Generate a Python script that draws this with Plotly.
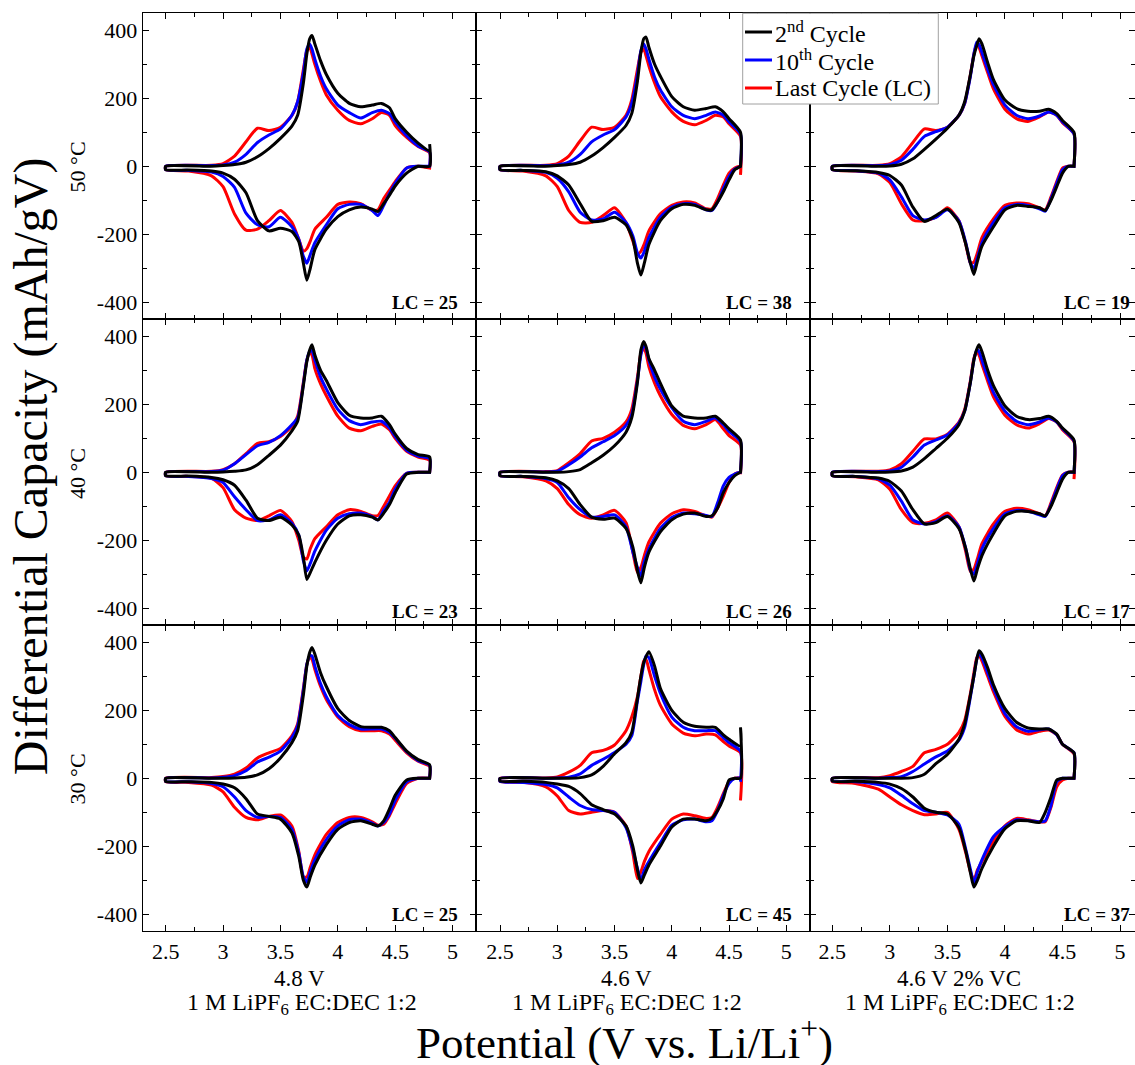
import plotly.graph_objects as go

W, H = 1135, 1065

# ---------------- voltage grids (V vs Li/Li+) ----------------
CHG_V = [2.5, 2.9, 3.0, 3.1, 3.2, 3.3, 3.4, 3.5, 3.6, 3.65, 3.7, 3.73, 3.755, 3.775, 3.8,
         3.85, 3.9, 4.0, 4.1, 4.2, 4.3, 4.38, 4.45, 4.5, 4.6, 4.7, 4.8]
DIS_V_48 = [4.8, 4.8, 4.7, 4.6, 4.5, 4.45, 4.4, 4.35, 4.3, 4.2, 4.1, 4.0, 3.9, 3.8, 3.76, 3.73,
            3.7, 3.66, 3.6, 3.5, 3.4, 3.3, 3.2, 3.1, 3.0, 2.9, 2.7, 2.5]
DIS_V_46 = [4.6, 4.6, 4.55, 4.5, 4.45, 4.4, 4.35, 4.3, 4.2, 4.1, 4.0, 3.9, 3.8, 3.76, 3.73,
            3.7, 3.66, 3.6, 3.5, 3.4, 3.3, 3.2, 3.1, 3.0, 2.9, 2.7, 2.5]

# ---------------- dQ/dV values (mAh/gV) ----------------
# 50 C, 4.8 V
T50_V48_2ND_CHG = [0, 0, 2, 5, 12, 28, 52, 82, 118, 150, 245, 330, 375, 385, 360, 310, 270, 215, 185, 175, 180, 185, 172, 140, 100, 68, 45]
T50_V48_10TH_CHG = [0, 2, 4, 12, 35, 70, 92, 110, 150, 190, 275, 345, 360, 345, 315, 265, 228, 180, 158, 142, 158, 165, 155, 130, 90, 60, 42]
T50_V48_LC_CHG = [0, 3, 8, 30, 72, 112, 105, 115, 150, 190, 285, 340, 350, 330, 300, 250, 210, 165, 135, 125, 140, 158, 150, 120, 85, 58, 40]
T50_V48_2ND_DIS = [65, 0, 0, -20, -58, -85, -110, -133, -126, -120, -128, -148, -185, -245, -300, -335, -285, -222, -192, -182, -190, -160, -78, -38, -20, -14, -11, -10]
T50_V48_10TH_DIS = [0, 0, 0, -5, -50, -80, -115, -145, -130, -112, -112, -125, -172, -225, -260, -285, -265, -215, -178, -150, -178, -172, -138, -62, -30, -17, -12, -10]
T50_V48_LC_DIS = [-5, -5, 0, -5, -45, -70, -95, -128, -130, -110, -105, -112, -150, -185, -220, -242, -250, -215, -165, -130, -160, -185, -188, -140, -60, -28, -14, -10]

# 50 C, 4.6 V
T50_V46_2ND_CHG = [0, 0, 2, 5, 12, 30, 55, 85, 120, 155, 250, 335, 375, 380, 350, 300, 265, 205, 175, 165, 170, 175, 160, 140, 100]
T50_V46_10TH_CHG = [0, 2, 4, 12, 35, 72, 92, 108, 145, 185, 270, 340, 360, 345, 315, 262, 225, 175, 150, 140, 150, 160, 150, 130, 95]
T50_V46_LC_CHG = [0, 3, 8, 30, 75, 115, 108, 115, 150, 195, 285, 335, 345, 325, 295, 245, 205, 160, 132, 122, 135, 150, 145, 125, 88]
T50_V46_2ND_DIS = [0, 0, -10, -40, -75, -105, -128, -128, -115, -112, -125, -160, -230, -285, -320, -285, -215, -172, -150, -160, -162, -110, -55, -28, -16, -12, -10]
T50_V46_10TH_DIS = [0, 0, -8, -30, -65, -105, -130, -128, -112, -110, -120, -150, -210, -250, -270, -255, -205, -165, -135, -155, -158, -135, -75, -35, -18, -12, -10]
T50_V46_LC_DIS = [-25, 0, -5, -20, -55, -95, -125, -125, -108, -105, -115, -140, -190, -228, -250, -258, -220, -165, -122, -145, -165, -165, -130, -60, -28, -14, -10]

# 50 C, 4.6 V + 2% VC
T50_VC_2ND_CHG = [0, 0, 1, 6, 22, 50, 80, 112, 150, 190, 270, 325, 355, 375, 360, 305, 255, 195, 170, 162, 162, 168, 155, 135, 100]
T50_VC_10TH_CHG = [0, 2, 5, 18, 50, 88, 102, 115, 150, 185, 265, 330, 365, 358, 335, 285, 240, 180, 150, 140, 148, 160, 150, 130, 95]
T50_VC_LC_CHG = [0, 3, 8, 28, 70, 110, 105, 115, 150, 185, 270, 330, 360, 350, 325, 275, 228, 168, 140, 132, 145, 160, 150, 128, 95]
T50_VC_2ND_DIS = [0, 0, 0, -20, -60, -100, -130, -122, -118, -115, -128, -178, -235, -280, -318, -285, -230, -165, -126, -145, -162, -120, -55, -27, -18, -13, -10]
T50_VC_10TH_DIS = [0, 0, 0, -10, -50, -95, -132, -125, -115, -112, -122, -165, -225, -270, -300, -285, -225, -160, -128, -150, -158, -145, -90, -40, -20, -13, -10]
T50_VC_LC_DIS = [0, 0, 0, -5, -45, -90, -128, -122, -110, -108, -115, -155, -210, -255, -282, -285, -230, -160, -122, -150, -160, -158, -110, -48, -22, -14, -10]

# 40 C, 4.8 V
T40_V48_2ND_CHG = [0, 0, 1, 3, 7, 22, 50, 80, 122, 150, 255, 325, 360, 375, 345, 300, 270, 205, 168, 160, 160, 165, 140, 112, 70, 52, 45]
T40_V48_10TH_CHG = [0, 2, 6, 25, 52, 78, 88, 108, 140, 160, 260, 330, 355, 358, 330, 280, 245, 185, 152, 140, 148, 150, 130, 105, 65, 48, 40]
T40_V48_LC_CHG = [0, 3, 8, 25, 55, 85, 90, 105, 135, 165, 265, 330, 352, 345, 305, 260, 225, 165, 130, 122, 135, 142, 125, 100, 62, 45, 35]
T40_V48_2ND_DIS = [0, 0, 0, -5, -60, -95, -120, -140, -132, -125, -128, -152, -200, -265, -295, -315, -250, -185, -155, -132, -142, -135, -82, -38, -22, -15, -11, -10]
T40_V48_10TH_DIS = [0, 0, 0, -3, -50, -88, -112, -140, -130, -120, -122, -135, -170, -232, -268, -290, -260, -185, -150, -125, -140, -142, -110, -72, -30, -18, -12, -10]
T40_V48_LC_DIS = [0, 0, 0, -3, -40, -70, -100, -127, -128, -115, -110, -125, -160, -195, -225, -255, -250, -200, -145, -112, -128, -142, -135, -110, -45, -18, -12, -10]

# 40 C, 4.6 V
T40_V46_2ND_CHG = [0, 0, 0, 2, 8, 28, 50, 78, 118, 160, 265, 360, 385, 370, 335, 300, 262, 195, 165, 160, 160, 165, 145, 128, 95]
T40_V46_10TH_CHG = [0, 1, 3, 22, 45, 72, 90, 108, 138, 170, 270, 345, 375, 365, 330, 280, 245, 190, 150, 140, 150, 160, 140, 120, 90]
T40_V46_LC_CHG = [0, 2, 5, 28, 55, 92, 100, 118, 148, 185, 280, 350, 365, 350, 310, 262, 225, 170, 138, 128, 140, 155, 128, 108, 80]
T40_V46_2ND_DIS = [0, 0, -10, -30, -60, -105, -128, -130, -120, -123, -140, -175, -235, -280, -325, -290, -220, -165, -135, -138, -132, -95, -48, -25, -16, -12, -10]
T40_V46_10TH_DIS = [0, 0, -5, -15, -40, -90, -130, -127, -122, -120, -133, -165, -225, -262, -305, -280, -235, -160, -125, -130, -132, -110, -75, -30, -18, -12, -10]
T40_V46_LC_DIS = [-5, 0, -5, -30, -70, -105, -132, -128, -115, -110, -122, -150, -205, -245, -280, -295, -235, -148, -112, -125, -135, -125, -95, -48, -25, -13, -10]

# 40 C, 4.6 V + 2% VC
T40_VC_2ND_CHG = [0, 0, 1, 4, 15, 40, 70, 100, 140, 180, 265, 330, 362, 375, 355, 300, 255, 195, 165, 155, 158, 165, 150, 130, 95]
T40_VC_10TH_CHG = [0, 2, 4, 15, 45, 80, 95, 110, 145, 180, 265, 330, 360, 355, 330, 280, 235, 180, 150, 140, 148, 160, 148, 128, 92]
T40_VC_LC_CHG = [0, 3, 7, 25, 62, 98, 98, 112, 148, 185, 270, 335, 355, 345, 318, 268, 222, 168, 140, 130, 143, 158, 148, 125, 90]
T40_VC_2ND_DIS = [0, 0, 0, -20, -60, -100, -128, -122, -115, -115, -128, -180, -245, -285, -320, -285, -225, -165, -130, -148, -152, -110, -55, -27, -17, -12, -10]
T40_VC_10TH_DIS = [0, 0, 0, -10, -50, -95, -130, -125, -115, -112, -122, -165, -225, -270, -300, -288, -225, -160, -128, -145, -152, -140, -85, -38, -19, -12, -10]
T40_VC_LC_DIS = [-20, 0, 0, -8, -45, -90, -128, -122, -110, -106, -115, -152, -210, -255, -285, -292, -235, -160, -120, -140, -150, -148, -110, -50, -22, -13, -10]

# 30 C, 4.8 V
T30_V48_2ND_CHG = [0, 0, 0, 1, 3, 10, 28, 60, 105, 140, 245, 330, 370, 385, 365, 310, 270, 205, 170, 152, 150, 150, 140, 120, 80, 55, 40]
T30_V48_10TH_CHG = [0, 1, 3, 8, 22, 48, 62, 80, 120, 155, 260, 335, 360, 360, 330, 278, 240, 185, 158, 145, 145, 145, 135, 118, 78, 52, 38]
T30_V48_LC_CHG = [0, 2, 5, 12, 30, 60, 75, 88, 125, 160, 265, 335, 355, 350, 320, 270, 232, 180, 152, 140, 140, 140, 130, 112, 75, 50, 35]
T30_V48_2ND_DIS = [0, 0, 0, -5, -50, -90, -125, -140, -135, -125, -130, -150, -195, -255, -290, -320, -300, -230, -160, -120, -112, -105, -60, -28, -17, -12, -10, -9]
T30_V48_10TH_DIS = [0, 0, 0, -10, -65, -105, -130, -140, -132, -120, -122, -140, -180, -240, -275, -305, -290, -220, -150, -115, -112, -115, -95, -55, -25, -15, -10, -9]
T30_V48_LC_DIS = [0, 0, 0, -15, -75, -110, -135, -138, -128, -115, -115, -130, -165, -225, -262, -290, -290, -215, -140, -108, -112, -122, -115, -85, -40, -20, -12, -10]

# 30 C, 4.6 V
T30_V46_2ND_CHG = [0, 0, 0, 0, 2, 10, 35, 72, 105, 135, 235, 300, 340, 358, 372, 330, 265, 200, 165, 153, 150, 150, 128, 115, 95]
T30_V46_10TH_CHG = [0, 0, 1, 3, 13, 38, 56, 76, 100, 125, 228, 285, 335, 360, 355, 300, 250, 180, 150, 140, 140, 140, 120, 105, 80]
T30_V46_LC_CHG = [0, 1, 4, 18, 38, 75, 82, 98, 140, 180, 240, 300, 345, 350, 320, 260, 215, 160, 133, 125, 130, 128, 108, 95, 75]
T30_V46_2ND_DIS = [150, 0, 0, -5, -60, -95, -118, -125, -120, -120, -143, -200, -255, -285, -308, -270, -200, -140, -105, -92, -78, -45, -24, -17, -12, -9, -8]
T30_V46_10TH_DIS = [-10, 0, 0, -15, -50, -95, -125, -128, -120, -122, -138, -190, -245, -270, -300, -265, -210, -145, -100, -95, -92, -80, -55, -28, -18, -12, -9]
T30_V46_LC_DIS = [-65, 0, 0, -10, -45, -85, -115, -118, -110, -105, -120, -165, -215, -245, -275, -295, -220, -140, -100, -95, -100, -105, -95, -52, -25, -12, -9]

# 30 C, 4.6 V + 2% VC
T30_VC_2ND_CHG = [0, 0, 0, 0, 2, 12, 43, 70, 115, 160, 245, 300, 350, 375, 365, 325, 275, 205, 165, 148, 145, 145, 130, 100, 75]
T30_VC_10TH_CHG = [0, 0, 2, 5, 20, 42, 63, 80, 112, 150, 240, 300, 350, 368, 355, 310, 265, 190, 152, 138, 143, 145, 128, 100, 75]
T30_VC_LC_CHG = [0, 2, 8, 20, 35, 75, 85, 100, 135, 170, 250, 310, 355, 362, 345, 300, 255, 182, 143, 130, 138, 142, 128, 100, 72]
T30_VC_2ND_DIS = [0, 0, 0, 0, -5, -55, -100, -130, -125, -125, -148, -200, -265, -300, -320, -278, -215, -145, -105, -100, -88, -55, -30, -17, -12, -9, -8]
T30_VC_10TH_DIS = [0, 0, 0, 0, -10, -80, -125, -128, -124, -122, -142, -172, -240, -275, -308, -268, -210, -135, -108, -100, -95, -75, -50, -28, -18, -10, -8]
T30_VC_LC_DIS = [0, 0, 0, -5, -25, -85, -128, -128, -122, -118, -140, -185, -245, -270, -300, -275, -220, -150, -100, -105, -107, -95, -78, -55, -32, -15, -10]

# ---------------- labels ----------------
TEMPS = ["50 °C", "40 °C", "30 °C"]
COND_LINE1 = ["4.8 V", "4.6 V", "4.6 V 2% VC"]
COND_LINE2 = ["1 M LiPF<sub>6</sub> EC:DEC 1:2"] * 3
LAST_CYCLE = [[25, 38, 19], [23, 26, 17], [25, 45, 37]]
CYCLE_NAMES = ["2<sup>nd</sup> Cycle", "10<sup>th</sup> Cycle", "Last Cycle (LC)"]
CYCLE_COLORS = ["#000000", "#0000ff", "#ff0000"]
X_TICKS = [2.5, 3, 3.5, 4, 4.5, 5]
X_TICK_TEXT = ["2.5", "3", "3.5", "4", "4.5", "5"]
X_MINOR = [2.25, 2.75, 3.25, 3.75, 4.25, 4.75, 5.25]
Y_TICKS = [-400, -200, 0, 200, 400]
Y_TICK_TEXT = ["-400", "-200", "0", "200", "400"]
Y_MINOR = [-300, -100, 100, 300]

PANELS = [
    [(T50_V48_2ND_CHG, T50_V48_2ND_DIS, T50_V48_10TH_CHG, T50_V48_10TH_DIS, T50_V48_LC_CHG, T50_V48_LC_DIS, 4.8),
     (T50_V46_2ND_CHG, T50_V46_2ND_DIS, T50_V46_10TH_CHG, T50_V46_10TH_DIS, T50_V46_LC_CHG, T50_V46_LC_DIS, 4.6),
     (T50_VC_2ND_CHG, T50_VC_2ND_DIS, T50_VC_10TH_CHG, T50_VC_10TH_DIS, T50_VC_LC_CHG, T50_VC_LC_DIS, 4.6)],
    [(T40_V48_2ND_CHG, T40_V48_2ND_DIS, T40_V48_10TH_CHG, T40_V48_10TH_DIS, T40_V48_LC_CHG, T40_V48_LC_DIS, 4.8),
     (T40_V46_2ND_CHG, T40_V46_2ND_DIS, T40_V46_10TH_CHG, T40_V46_10TH_DIS, T40_V46_LC_CHG, T40_V46_LC_DIS, 4.6),
     (T40_VC_2ND_CHG, T40_VC_2ND_DIS, T40_VC_10TH_CHG, T40_VC_10TH_DIS, T40_VC_LC_CHG, T40_VC_LC_DIS, 4.6)],
    [(T30_V48_2ND_CHG, T30_V48_2ND_DIS, T30_V48_10TH_CHG, T30_V48_10TH_DIS, T30_V48_LC_CHG, T30_V48_LC_DIS, 4.8),
     (T30_V46_2ND_CHG, T30_V46_2ND_DIS, T30_V46_10TH_CHG, T30_V46_10TH_DIS, T30_V46_LC_CHG, T30_V46_LC_DIS, 4.6),
     (T30_VC_2ND_CHG, T30_VC_2ND_DIS, T30_VC_10TH_CHG, T30_VC_10TH_DIS, T30_VC_LC_CHG, T30_VC_LC_DIS, 4.6)],
]

# ---------------- layout geometry (pixels) ----------------
COL_PX = [(142.7, 476.0), (476.0, 810.0), (810.0, 1135.0)]
ROW_PX = [(13.3, 319.3), (319.3, 625.3), (625.3, 931.3)]
X_RANGES = [[2.3, 5.204], [2.29, 5.207], [2.306, 5.13]]
Y_RANGE = [-450, 450]
FONT = "Liberation Serif, Times New Roman, Times, serif"

fig = go.Figure()
layout = {}
annotations = []
shapes = []

for r in range(3):
    for c in range(3):
        idx = r * 3 + c + 1
        xa = "x" if idx == 1 else f"x{idx}"
        ya = "y" if idx == 1 else f"y{idx}"
        c2, d2, c10, d10, clc, dlc, cut = PANELS[r][c]
        chg_v = [v for v in CHG_V if v <= cut + 1e-9]
        dis_v = DIS_V_48 if cut > 4.7 else DIS_V_46
        curves = [(clc, dlc, 2), (c10, d10, 1), (c2, d2, 0)]
        for chg, dis, k in curves:
            xs = chg_v + dis_v + [chg_v[0]]
            ys = chg + dis + [chg[0]]
            fig.add_trace(go.Scatter(
                x=xs, y=ys, mode="lines", xaxis=xa, yaxis=ya,
                line=dict(color=CYCLE_COLORS[k], width=3,
                          shape="spline", smoothing=0.6),
                name=CYCLE_NAMES[k], showlegend=False, hoverinfo="skip"))
        x0, x1 = COL_PX[c]
        y0, y1 = ROW_PX[r]
        xkey = "xaxis" if idx == 1 else f"xaxis{idx}"
        ykey = "yaxis" if idx == 1 else f"yaxis{idx}"
        layout[xkey] = dict(
            domain=[x0 / W, x1 / W], range=X_RANGES[c], anchor=ya,
            tickmode="array", tickvals=X_TICKS, ticktext=X_TICK_TEXT,
            showticklabels=(r == 2), ticks="inside", ticklen=6, tickwidth=1,
            tickcolor="black",
            minor=dict(tickmode="array", tickvals=X_MINOR, ticks="inside", ticklen=4,
                       tickcolor="black", showgrid=False),
            showline=True, linecolor="black", linewidth=1.2, mirror="allticks",
            showgrid=False, zeroline=False,
            tickfont=dict(family=FONT, size=22, color="black"))
        layout[ykey] = dict(
            domain=[1 - y1 / H, 1 - y0 / H], range=Y_RANGE, anchor=xa,
            tickmode="array", tickvals=Y_TICKS, ticktext=Y_TICK_TEXT,
            showticklabels=(c == 0), ticks="inside", ticklen=6, tickwidth=1,
            tickcolor="black",
            minor=dict(tickmode="array", tickvals=Y_MINOR, ticks="inside", ticklen=4,
                       tickcolor="black", showgrid=False),
            showline=True, linecolor="black", linewidth=1.2, mirror="allticks",
            showgrid=False, zeroline=False,
            tickfont=dict(family=FONT, size=22, color="black"))
        lc_x = 5.065 if c < 2 else 5.105
        lc_y = -410 if r == 1 else -402
        annotations.append(dict(
            x=lc_x, y=lc_y, xref=xa, yref=ya, xanchor="right", yanchor="middle",
            text=f"<b>LC = {LAST_CYCLE[r][c]}</b>", showarrow=False,
            font=dict(family=FONT, size=19, color="black")))

# temperature labels
TEMP_Y_PX = [166.7, 473.3, 778.7]
for r in range(3):
    annotations.append(dict(
        x=77.7 / W, y=1 - TEMP_Y_PX[r] / H, xref="paper", yref="paper",
        text=TEMPS[r], textangle=-90, showarrow=False, xanchor="center", yanchor="middle",
        font=dict(family=FONT, size=22, color="black")))

# column condition labels
L1_X_PX = [299, 626, 959]
L2_X_PX = [301.7, 626.7, 960]
for c in range(3):
    annotations.append(dict(
        x=L1_X_PX[c] / W, y=1 - 978 / H, xref="paper", yref="paper",
        text=COND_LINE1[c], showarrow=False, xanchor="center", yanchor="middle",
        font=dict(family=FONT, size=23, color="black")))
    annotations.append(dict(
        x=L2_X_PX[c] / W, y=1 - 1004 / H, xref="paper", yref="paper",
        text=COND_LINE2[c], showarrow=False, xanchor="center", yanchor="middle",
        font=dict(family=FONT, size=24, color="black")))

# axis titles
annotations.append(dict(
    x=624 / W, y=1 - 1039 / H, xref="paper", yref="paper",
    text="Potential (V vs. Li/Li<sup>+</sup>)", showarrow=False,
    xanchor="center", yanchor="middle", font=dict(family=FONT, size=45, color="black")))
annotations.append(dict(
    x=30.7 / W, y=1 - 466.5 / H, xref="paper", yref="paper",
    text="Differential Capacity (mAh/gV)", showarrow=False, textangle=-90,
    xanchor="center", yanchor="middle", font=dict(family=FONT, size=48, color="black")))

# legend (drawn box, samples and texts)
LEG_BOX_PX = (742.7, 13.3, 938.3, 104.0)
LEG_ROW_Y_PX = [32, 60, 88]
shapes.append(dict(type="rect", xref="paper", yref="paper", layer="above",
                   x0=LEG_BOX_PX[0] / W, x1=LEG_BOX_PX[2] / W,
                   y0=1 - LEG_BOX_PX[3] / H, y1=1 - LEG_BOX_PX[1] / H,
                   fillcolor="white", line=dict(color="#a0a0a0", width=1)))
for k in range(3):
    yy = 1 - LEG_ROW_Y_PX[k] / H
    shapes.append(dict(type="line", xref="paper", yref="paper", layer="above",
                       x0=745 / W, x1=772 / W, y0=yy, y1=yy,
                       line=dict(color=CYCLE_COLORS[k], width=3)))
    annotations.append(dict(
        x=773 / W, y=yy, xref="paper", yref="paper", xanchor="left", yanchor="middle",
        text=CYCLE_NAMES[k], showarrow=False,
        font=dict(family=FONT, size=24, color="black")))

fig.update_layout(
    width=W, height=H, margin=dict(l=0, r=0, t=0, b=0),
    paper_bgcolor="white", plot_bgcolor="white",
    font=dict(family=FONT, color="black"),
    annotations=annotations, shapes=shapes, showlegend=False,
    **layout)

fig.write_html("out.html")
